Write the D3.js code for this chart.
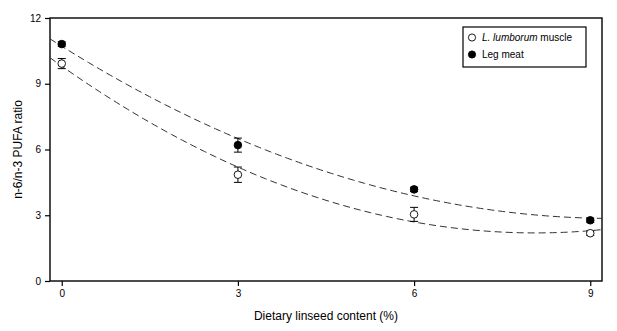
<!DOCTYPE html>
<html><head><meta charset="utf-8">
<script src="https://cdn.jsdelivr.net/npm/d3@7/dist/d3.min.js"></script>
<style>body{margin:0;background:#fff;} text{font-family:"Liberation Sans",Arial,sans-serif;}</style>
</head><body>
<svg id="c" width="617" height="331"></svg>
<script>
const linseed = [0, 3, 6, 9];
const lumborumMean = [9.92, 4.85, 3.04, 2.18];
const lumborumErr = [0.23, 0.35, 0.32, 0.10];
const legMean = [10.81, 6.20, 4.18, 2.77];
const legErr = [0.10, 0.32, 0.10, 0.10];
const xTicks = [0, 3, 6, 9];
const yTicks = [0, 3, 6, 9, 12];
const seriesNames = ["L. lumborum muscle", "Leg meat"];

const svg = d3.select("#c");
const L = 50, R = 602, T = 18, B = 281;
const x = d3.scaleLinear().domain([-0.2, 9.2]).range([L, R]);
const y = d3.scaleLinear().domain([0, 12]).range([B, T]);

// frame
svg.append("rect").attr("x", L).attr("y", T).attr("width", R - L).attr("height", B - T)
  .attr("fill", "none").attr("stroke", "#000").attr("stroke-width", 1.4);

const xAxis = svg.append("g").attr("transform", `translate(0,${B})`)
  .call(d3.axisBottom(x).tickValues(xTicks).tickSize(5).tickPadding(4).tickFormat(d3.format("d")));
const yAxis = svg.append("g").attr("transform", `translate(${L},0)`)
  .call(d3.axisLeft(y).tickValues(yTicks).tickSize(5).tickPadding(4).tickFormat(d3.format("d")));
[xAxis, yAxis].forEach(a => {
  a.select(".domain").remove();
  a.selectAll("line").attr("stroke", "#000").attr("stroke-width", 1.2);
  a.selectAll("text").attr("font-size", 10).attr("fill", "#000").style("font-family", '"Liberation Sans",Arial,sans-serif');
});

svg.append("text").attr("x", 326).attr("y", 320).attr("text-anchor", "middle")
  .attr("font-size", 12).text("Dietary linseed content (%)");
svg.append("text").attr("transform", `translate(22,${(T + B) / 2}) rotate(-90)`)
  .attr("text-anchor", "middle").attr("font-size", 12).text("n-6/n-3 PUFA ratio");

// quadratic least-squares fit
function quadFit(xs, ys) {
  let S = [0,0,0,0,0], Sy = [0,0,0];
  xs.forEach((xv, i) => {
    for (let k = 0; k < 5; k++) S[k] += Math.pow(xv, k);
    for (let k = 0; k < 3; k++) Sy[k] += Math.pow(xv, k) * ys[i];
  });
  const M = [[S[0],S[1],S[2],Sy[0]],[S[1],S[2],S[3],Sy[1]],[S[2],S[3],S[4],Sy[2]]];
  for (let i = 0; i < 3; i++) {
    for (let j = i + 1; j < 3; j++) {
      const f = M[j][i] / M[i][i];
      for (let k = i; k < 4; k++) M[j][k] -= f * M[i][k];
    }
  }
  const c = [0,0,0];
  for (let i = 2; i >= 0; i--) {
    let s = M[i][3];
    for (let k = i + 1; k < 3; k++) s -= M[i][k] * c[k];
    c[i] = s / M[i][i];
  }
  return xv => c[0] + c[1] * xv + c[2] * xv * xv;
}

svg.append("defs").append("clipPath").attr("id", "pc")
  .append("rect").attr("x", L).attr("y", T).attr("width", R - L).attr("height", B - T);

const series = [
  {name: seriesNames[0], mean: lumborumMean, err: lumborumErr, fill: "#fff"},
  {name: seriesNames[1], mean: legMean, err: legErr, fill: "#000"}
];
const line = d3.line().x(d => x(d[0])).y(d => y(d[1]));
series.forEach(s => {
  const f = quadFit(linseed, s.mean);
  const pts = d3.range(0, 101).map(i => { const xv = -0.2 + 9.4 * i / 100; return [xv, f(xv)]; });
  svg.append("path").attr("d", line(pts)).attr("fill", "none").attr("stroke", "#333")
    .attr("stroke-width", 1).attr("stroke-dasharray", "7,4").attr("clip-path", "url(#pc)");
});
series.forEach(s => {
  const g = svg.append("g");
  linseed.forEach((xv, i) => {
    const cx = x(xv), y1 = y(s.mean[i] + s.err[i]), y2 = y(s.mean[i] - s.err[i]);
    g.append("line").attr("x1", cx).attr("x2", cx).attr("y1", y1).attr("y2", y2).attr("stroke", "#000").attr("stroke-width", 1);
    [y1, y2].forEach(yy => g.append("line").attr("x1", cx - 4).attr("x2", cx + 4).attr("y1", yy).attr("y2", yy).attr("stroke", "#000").attr("stroke-width", 1));
  });
  g.selectAll("circle").data(linseed).join("circle")
    .attr("cx", d => x(d)).attr("cy", (d, i) => y(s.mean[i])).attr("r", 3.8)
    .attr("fill", s.fill).attr("stroke", "#000").attr("stroke-width", 0.9);
});

// legend
const lg = svg.append("g");
lg.append("rect").attr("x", 463).attr("y", 27).attr("width", 123).attr("height", 40)
  .attr("fill", "#fff").attr("stroke", "#000").attr("stroke-width", 1.2);
series.forEach((s, i) => {
  const yy = 37.5 + i * 17;
  lg.append("circle").attr("cx", 472).attr("cy", yy).attr("r", 3.6).attr("fill", s.fill).attr("stroke", "#000").attr("stroke-width", 0.9);
  const t = lg.append("text").attr("x", 482).attr("y", yy + 3.5).attr("font-size", 10);
  if (i === 0) {
    t.append("tspan").attr("font-style", "italic").text("L. lumborum");
    t.append("tspan").text(" muscle");
  } else t.text(s.name);
});
</script>
</body></html>
